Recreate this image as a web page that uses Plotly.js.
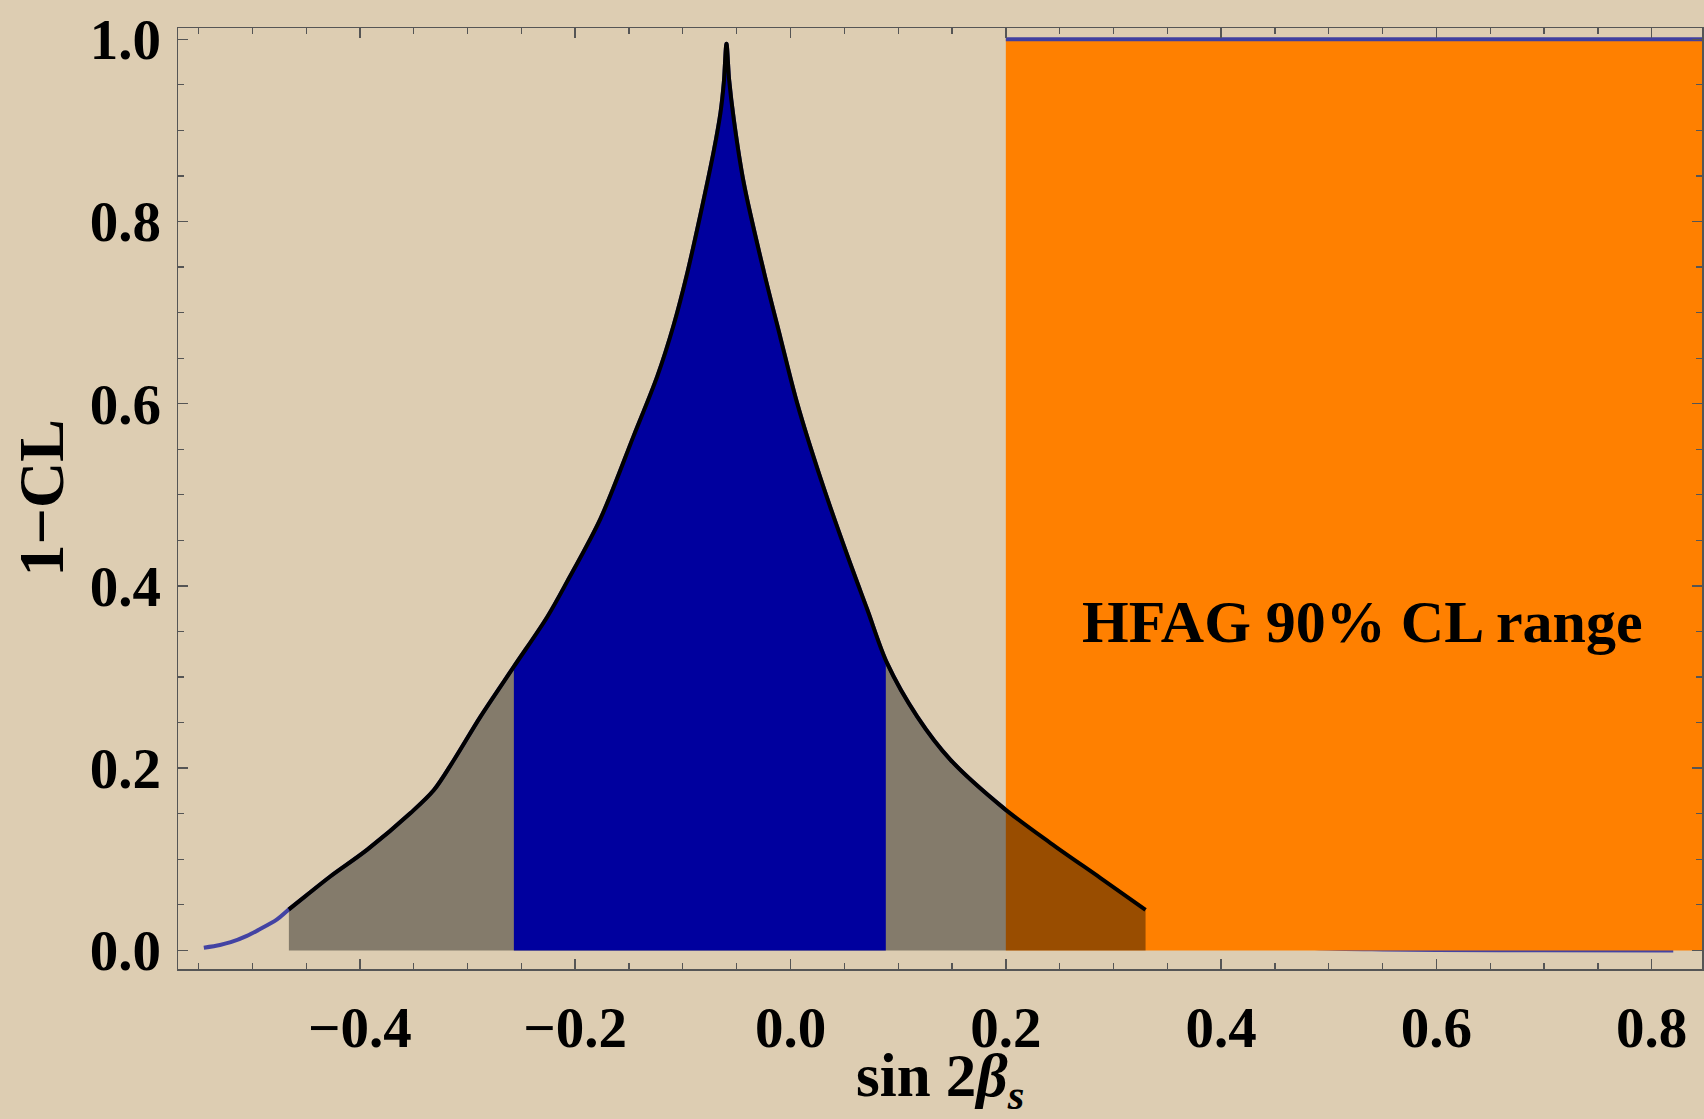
<!DOCTYPE html>
<html>
<head>
<meta charset="utf-8">
<script src="https://cdn.plot.ly/plotly-3.0.1.min.js"></script>
<style>
  html, body { margin: 0; padding: 0; background: #ddcdb2; }
  #chart { width: 1704px; height: 1119px; }
</style>
</head>
<body>
<div id="chart"></div>
<script>
// 1-CL as a function of sin 2beta_s
const curveX = [-0.545, -0.530, -0.520, -0.505, -0.495, -0.477, -0.466, -0.447, -0.4273, -0.3932,
  -0.353, -0.3313, -0.3127, -0.288, -0.257, -0.226, -0.2074, -0.1765, -0.1456, -0.1238,
  -0.1084, -0.096, -0.0836, -0.0712, -0.065, -0.062, -0.0595, -0.057, -0.0527, -0.0434,
  -0.0248, -0.0093, 0.0062, 0.0279, 0.0527, 0.0712, 0.0898, 0.1177, 0.1486, 0.198,
  0.2415, 0.288, 0.3298, 0.36, 0.40, 0.43, 0.47, 0.50, 0.55, 0.60, 0.70, 0.82];
const curveY = [0.003, 0.006, 0.009, 0.016, 0.022, 0.034, 0.045, 0.063, 0.0814, 0.1106,
  0.1508, 0.176, 0.209, 0.2566, 0.3114, 0.366, 0.405, 0.474, 0.565, 0.630,
  0.687, 0.743, 0.808, 0.878, 0.920, 0.952, 0.995, 0.955, 0.912, 0.842,
  0.745, 0.672, 0.6004, 0.518, 0.4337, 0.3745, 0.315, 0.2567, 0.2092, 0.1562,
  0.1178, 0.0794, 0.0446, 0.030, 0.017, 0.010, 0.004, 0.002, 0.001, 0.0005, 0.0002, 0.0];

// Ranges
const grayBand = [-0.466, 0.3298];   // band shown in gray
const blueBand = [-0.257, 0.0885];   // central band in blue
const hfagBand = [0.2, 0.9];         // HFAG 90% CL range
const hfagTop = 1.0;
const hfagLabel = "HFAG 90% CL range";
const labelPos = [0.531, 0.361];
const xTitle = 'sin 2<i>β<sub>s</sub></i>';
const yTitle = '1−CL';

function interp(x) {
  for (let i = 0; i < curveX.length - 1; i++) {
    if (x >= curveX[i] && x <= curveX[i + 1]) {
      const t = (x - curveX[i]) / (curveX[i + 1] - curveX[i]);
      return curveY[i] + t * (curveY[i + 1] - curveY[i]);
    }
  }
  return 0;
}
function slice(a, b) {
  const xs = [a], ys = [interp(a)];
  for (let i = 0; i < curveX.length; i++) {
    if (curveX[i] > a && curveX[i] < b) { xs.push(curveX[i]); ys.push(curveY[i]); }
  }
  xs.push(b); ys.push(interp(b));
  return [xs, ys];
}

const [gx, gy] = slice(grayBand[0], grayBand[1]);
const [bx, by] = slice(blueBand[0], blueBand[1]);
const sm = 0.9;

const traces = [
  { x: curveX, y: curveY, mode: 'lines', line: { color: '#4343a3', width: 4, shape: 'spline', smoothing: sm }, hoverinfo: 'skip' },
  { x: [hfagBand[0], hfagBand[0], hfagBand[1], hfagBand[1]], y: [0, hfagTop, hfagTop, 0],
    mode: 'lines', fill: 'toself', fillcolor: '#ff8000', line: { width: 0 }, hoverinfo: 'skip' },
  { x: gx, y: gy, mode: 'lines', fill: 'tozeroy', fillcolor: 'rgba(0,0,0,0.4)', line: { width: 0, shape: 'spline', smoothing: sm }, hoverinfo: 'skip' },
  { x: bx, y: by, mode: 'lines', fill: 'tozeroy', fillcolor: '#00009e', line: { width: 0, shape: 'spline', smoothing: sm }, hoverinfo: 'skip' },
  { x: gx, y: gy, mode: 'lines', line: { color: '#000000', width: 4, shape: 'spline', smoothing: sm }, hoverinfo: 'skip' },
  { x: [hfagBand[0], hfagBand[1]], y: [hfagTop, hfagTop], mode: 'lines', line: { color: '#4040a0', width: 4 }, hoverinfo: 'skip' }
];

const serif = 'Liberation Serif, Times New Roman, serif';
const tickFont = { family: serif, size: 57, color: '#000', weight: 'bold' };
const axisCommon = {
  showgrid: false, zeroline: false,
  showline: true, linecolor: '#555', linewidth: 1.5, mirror: 'allticks',
  ticks: 'inside', ticklen: 10, tickwidth: 1.5, tickcolor: '#555',
  tickformat: '.1f', dtick: 0.2, tick0: 0,
  minor: { dtick: 0.05, tick0: 0, ticks: 'inside', ticklen: 6, tickwidth: 1.2, tickcolor: '#555', showgrid: false },
  tickfont: tickFont
};

const layout = {
  width: 1704, height: 1119,
  margin: { l: 178, r: 2, t: 28, b: 150 },
  paper_bgcolor: '#ddcdb2', plot_bgcolor: '#ddcdb2',
  showlegend: false,
  xaxis: Object.assign({}, axisCommon, { range: [-0.569, 0.8467], ticklabelstandoff: 8 }),
  yaxis: Object.assign({}, axisCommon, { range: [-0.0204, 1.0124], ticklabelstandoff: 4 }),
  annotations: [
    { x: labelPos[0], y: labelPos[1], xref: 'x', yref: 'y', text: hfagLabel, showarrow: false,
      xanchor: 'center', yanchor: 'middle',
      font: { family: serif, size: 60, color: '#000', weight: 'bold' } },
    { x: 0.5, y: 0, xref: 'paper', yref: 'paper', text: xTitle, showarrow: false,
      xanchor: 'center', yanchor: 'middle', yshift: -111,
      font: { family: serif, size: 61, color: '#000', weight: 'bold' } },
    { x: 0, y: 0.5, xref: 'paper', yref: 'paper', text: yTitle, showarrow: false, textangle: -90,
      xanchor: 'center', yanchor: 'middle', xshift: -137,
      font: { family: serif, size: 64, color: '#000', weight: 'bold' } }
  ]
};

Plotly.newPlot('chart', traces, layout, { displayModeBar: false, staticPlot: true });
</script>
</body>
</html>
